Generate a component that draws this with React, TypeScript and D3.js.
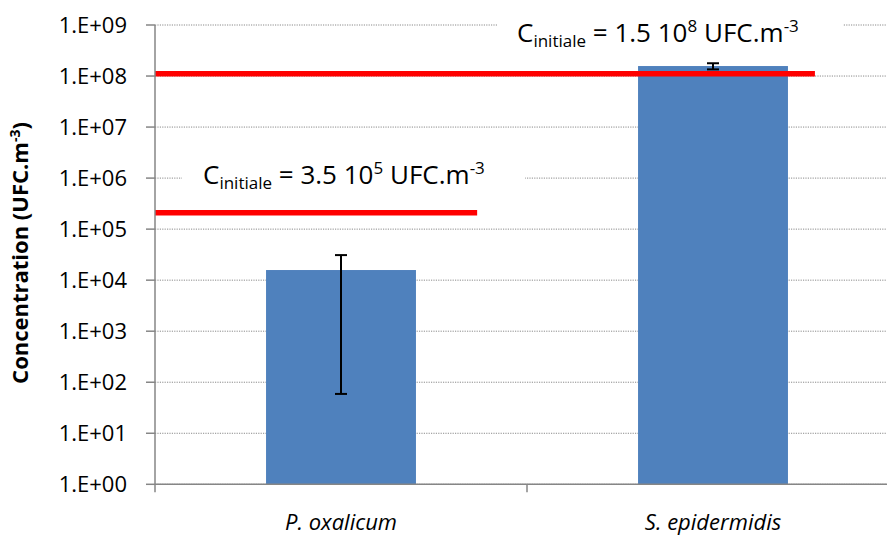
import React from "react";
import * as d3 from "d3";

const categories = ["P. oxalicum", "S. epidermidis"];
const values = [1.58e4, 1.57e8];
const errLow = [59, 1.35e8];
const errHigh = [3.1e4, 1.78e8];
const yTicks = [1e0, 1e1, 1e2, 1e3, 1e4, 1e5, 1e6, 1e7, 1e8, 1e9];
const yTickLabels = ["1.E+00", "1.E+01", "1.E+02", "1.E+03", "1.E+04", "1.E+05", "1.E+06", "1.E+07", "1.E+08", "1.E+09"];
const initialLevels = [2.1e5, 1.11e8];
const initialLineEnds = [0.866, 1.774]; // in category units along the x axis
const initialMantissa = ["3.5", "1.5"];
const initialExponent = ["5", "8"];

const W = 887;
const H = 539;
const FONT = "'Open Sans', 'Noto Sans', sans-serif";

export default function App() {
  const left = 155;
  const right = 899;
  const top = 25;
  const bottom = 484.3;

  const x = d3.scaleBand<string>().domain(categories).range([left, right]).paddingInner(0.597).paddingOuter(0.2985);
  const xUnit = d3.scaleLinear().domain([0, categories.length]).range([left, right]);
  const y = d3.scaleLog().domain([1, 1e9]).range([bottom, top]);
  const bw = x.bandwidth();
  const boundaries = d3.range(categories.length + 1).map((i) => xUnit(i));

  const labelPos = [
    { x: 203, y: 184, boxL: 182, boxR: 525 },
    { x: 517, y: 42, boxL: 497, boxR: 843 },
  ];

  return (
    <div style={{ position: "absolute", left: 0, top: 0, width: W, height: H, background: "#fff" }}>
      <svg width={W} height={H} style={{ display: "block", fontFamily: FONT }}>
        <rect x={0} y={0} width={W} height={H} fill="#fff" />
        {/* gridlines */}
        {yTicks.map((t, i) => (
          <line key={"g" + i} x1={left} x2={W} y1={y(t)} y2={y(t)} stroke="#8a8a8a" strokeWidth={1} strokeDasharray="1.2 1.2" />
        ))}
        {/* label backgrounds */}
        {labelPos.map((p, i) => (
          <rect key={"lb" + i} x={p.boxL} y={p.y - 30} width={p.boxR - p.boxL} height={40} fill="#fff" />
        ))}
        {/* bars */}
        {categories.map((c, i) => (
          <rect key={"b" + i} x={x(c)!} y={y(values[i])} width={bw} height={bottom - y(values[i])} fill="#4F81BD" />
        ))}
        {/* error bars */}
        {categories.map((c, i) => {
          const cx = x(c)! + bw / 2;
          return (
            <g key={"e" + i} stroke="#000" strokeWidth={2}>
              <line x1={cx} x2={cx} y1={y(errLow[i])} y2={y(errHigh[i])} />
              <line x1={cx - 6} x2={cx + 6} y1={y(errHigh[i])} y2={y(errHigh[i])} />
              <line x1={cx - 6} x2={cx + 6} y1={y(errLow[i])} y2={y(errLow[i])} />
            </g>
          );
        })}
        {/* initial concentration lines */}
        {initialLevels.map((v, i) => (
          <line key={"r" + i} x1={left} x2={xUnit(initialLineEnds[i])} y1={y(v)} y2={y(v)} stroke="#FF0000" strokeWidth={5.5} />
        ))}
        {/* axes */}
        <line x1={left} x2={left} y1={top} y2={bottom} stroke="#868686" strokeWidth={1.5} />
        <line x1={left} x2={W} y1={bottom} y2={bottom} stroke="#868686" strokeWidth={1.5} />
        {yTicks.map((t, i) => (
          <line key={"yt" + i} x1={left - 9} x2={left} y1={y(t)} y2={y(t)} stroke="#868686" strokeWidth={1.5} />
        ))}
        {boundaries.map((b, i) => (
          <line key={"xt" + i} x1={b} x2={b} y1={bottom} y2={bottom + 8} stroke="#868686" strokeWidth={1.5} />
        ))}
        {/* y tick labels */}
        {yTicks.map((t, i) => (
          <text key={"yl" + i} x={127} y={y(t)} dy="0.36em" textAnchor="end" fontSize={22} fill="#000">
            {yTickLabels[i]}
          </text>
        ))}
        {/* category labels */}
        {categories.map((c, i) => (
          <text key={"xl" + i} x={x(c)! + bw / 2} y={530} textAnchor="middle" fontSize={22} fontStyle="italic" fill="#000">
            {c}
          </text>
        ))}
        {/* y axis title */}
        <text transform={`translate(28,253) rotate(-90)`} textAnchor="middle" fontSize={22} fontWeight="bold" fill="#000">
          Concentration (UFC.m
          <tspan dy={-8} fontSize={14}>-3</tspan>
          <tspan dy={8}>)</tspan>
        </text>
        {/* annotations */}
        {labelPos.map((p, i) => (
          <text key={"an" + i} x={p.x} y={p.y} fontSize={26} fill="#000">
            C
            <tspan dy={5} fontSize={17}>initiale</tspan>
            <tspan dy={-5}> = {initialMantissa[i]} 10</tspan>
            <tspan dy={-10} fontSize={17}>{initialExponent[i]}</tspan>
            <tspan dy={10}> UFC.m</tspan>
            <tspan dy={-10} fontSize={17}>-3</tspan>
          </text>
        ))}
      </svg>
    </div>
  );
}
